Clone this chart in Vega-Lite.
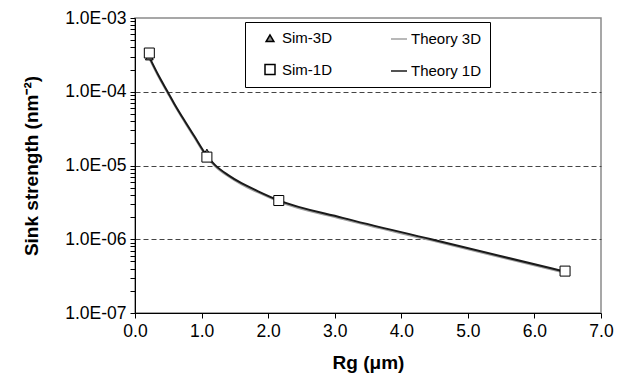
{
  "$schema": "https://vega.github.io/schema/vega-lite/v6.json",
  "width": 466,
  "height": 295,
  "autosize": {"type": "none"},
  "padding": {"left": 135, "top": 18, "right": 27, "bottom": 67},
  "background": "white",
  "config": {
    "font": "Liberation Sans",
    "view": {"stroke": "#8a8a8a", "strokeWidth": 1.5},
    "axis": {"domainColor": "black", "tickColor": "black", "labelColor": "black", "titleColor": "black", "labelFont": "Liberation Sans", "titleFont": "Liberation Sans", "labelFontSize": 17.5, "titleFontSize": 19, "titleFontWeight": "bold", "labelFlush": false, "labelOverlap": false}
  },
  "data": {
    "values": [
      {"series": "Theory 3D", "Rg": 0.215, "S": 2.85e-4},
      {"series": "Theory 3D", "Rg": 0.36, "S": 1.56e-4},
      {"series": "Theory 3D", "Rg": 0.49, "S": 9.65e-5},
      {"series": "Theory 3D", "Rg": 0.59, "S": 6.66e-5},
      {"series": "Theory 3D", "Rg": 0.75, "S": 3.84e-5},
      {"series": "Theory 3D", "Rg": 0.89, "S": 2.42e-5},
      {"series": "Theory 3D", "Rg": 1.08, "S": 1.30e-5},
      {"series": "Theory 3D", "Rg": 1.2, "S": 9.85e-6},
      {"series": "Theory 3D", "Rg": 1.4, "S": 7.14e-6},
      {"series": "Theory 3D", "Rg": 1.6, "S": 5.55e-6},
      {"series": "Theory 3D", "Rg": 1.85, "S": 4.31e-6},
      {"series": "Theory 3D", "Rg": 2.15, "S": 3.27e-6},
      {"series": "Theory 3D", "Rg": 3.12, "S": 1.88e-6},
      {"series": "Theory 3D", "Rg": 4.45, "S": 9.65e-7},
      {"series": "Theory 3D", "Rg": 6.46, "S": 3.5e-7},
      {"series": "Theory 1D", "Rg": 0.215, "S": 2.95e-4},
      {"series": "Theory 1D", "Rg": 0.36, "S": 1.62e-4},
      {"series": "Theory 1D", "Rg": 0.49, "S": 1.0e-4},
      {"series": "Theory 1D", "Rg": 0.59, "S": 6.9e-5},
      {"series": "Theory 1D", "Rg": 0.75, "S": 3.98e-5},
      {"series": "Theory 1D", "Rg": 0.89, "S": 2.51e-5},
      {"series": "Theory 1D", "Rg": 1.08, "S": 1.35e-5},
      {"series": "Theory 1D", "Rg": 1.2, "S": 1.02e-5},
      {"series": "Theory 1D", "Rg": 1.4, "S": 7.4e-6},
      {"series": "Theory 1D", "Rg": 1.6, "S": 5.75e-6},
      {"series": "Theory 1D", "Rg": 1.85, "S": 4.47e-6},
      {"series": "Theory 1D", "Rg": 2.15, "S": 3.39e-6},
      {"series": "Theory 1D", "Rg": 3.12, "S": 1.95e-6},
      {"series": "Theory 1D", "Rg": 4.45, "S": 1.0e-6},
      {"series": "Theory 1D", "Rg": 6.46, "S": 3.63e-7},
      {"series": "Sim-3D", "Rg": 0.215, "S": 3.0e-4},
      {"series": "Sim-3D", "Rg": 1.08, "S": 1.5e-5},
      {"series": "Sim-3D", "Rg": 2.15, "S": 3.3e-6},
      {"series": "Sim-3D", "Rg": 6.46, "S": 3.7e-7},
      {"series": "Sim-1D", "Rg": 0.215, "S": 3.35e-4},
      {"series": "Sim-1D", "Rg": 1.08, "S": 1.3e-5},
      {"series": "Sim-1D", "Rg": 2.16, "S": 3.35e-6},
      {"series": "Sim-1D", "Rg": 6.46, "S": 3.7e-7}
    ]
  },
  "encoding": {
    "x": {
      "field": "Rg", "type": "quantitative",
      "scale": {"domain": [0, 7], "nice": false, "zero": false},
      "axis": {"title": "Rg (μm)", "values": [0, 1, 2, 3, 4, 5, 6, 7], "format": ".1f", "grid": false, "tickSize": 5, "labelPadding": 4, "titleY": 55, "titleBaseline": "alphabetic"}
    },
    "y": {
      "field": "S", "type": "quantitative",
      "scale": {"type": "log", "domain": [1e-7, 1e-3], "nice": false},
      "axis": {
        "title": "Sink strength (nm⁻²)",
        "values": [1e-7, 2e-7, 3e-7, 4e-7, 5e-7, 6e-7, 7e-7, 8e-7, 9e-7, 1e-6, 2e-6, 3e-6, 4e-6, 5e-6, 6e-6, 7e-6, 8e-6, 9e-6, 1e-5, 2e-5, 3e-5, 4e-5, 5e-5, 6e-5, 7e-5, 8e-5, 9e-5, 1e-4, 2e-4, 3e-4, 4e-4, 5e-4, 6e-4, 7e-4, 8e-4, 9e-4, 1e-3],
        "labelExpr": "abs(log(datum.value)/LN10 - round(log(datum.value)/LN10)) < 0.01 ? '1.0E-0' + (-round(log(datum.value)/LN10)) : ''",
        "tickSize": 5,
        "grid": true,
        "gridDash": [5, 3],
        "gridColor": "#444",
        "gridWidth": 1,
        "gridOpacity": {"condition": {"test": "abs(log(datum.value)/LN10 - round(log(datum.value)/LN10)) < 0.01 && datum.value > 2e-7 && datum.value < 5e-4", "value": 1}, "value": 0},
        "labelPadding": 4,
        "titleX": -94,
        "titleBaseline": "bottom"
      }
    }
  },
  "layer": [
    {
      "transform": [{"filter": "indexof(datum.series, 'Theory') >= 0"}],
      "mark": {"type": "line", "interpolate": "monotone", "strokeWidth": 2},
      "encoding": {
        "stroke": {
          "field": "series", "type": "nominal",
          "scale": {"domain": ["Sim-3D", "Theory 3D", "Sim-1D", "Theory 1D"], "range": ["#000000", "#a0a0a0", "#000000", "#1a1a1a"]}
        }
      }
    },
    {
      "transform": [{"filter": "indexof(datum.series, 'Sim') >= 0"}],
      "mark": {"type": "point", "filled": true, "strokeWidth": 1, "opacity": 1},
      "encoding": {
        "stroke": {"field": "series", "type": "nominal"},
        "fill": {
          "field": "series", "type": "nominal",
          "scale": {"domain": ["Sim-3D", "Theory 3D", "Sim-1D", "Theory 1D"], "range": ["#8c8c8c", "#ffffff", "#ffffff", "#ffffff"]}
        },
        "size": {
          "field": "series", "type": "nominal",
          "scale": {"type": "ordinal", "domain": ["Sim-3D", "Theory 3D", "Sim-1D", "Theory 1D"], "range": [60, 256, 100, 256]}
        },
        "shape": {
          "field": "series", "type": "nominal",
          "scale": {"domain": ["Sim-3D", "Theory 3D", "Sim-1D", "Theory 1D"], "range": ["triangle-up", "stroke", "square", "stroke"]},
          "legend": {
            "orient": "none", "legendX": 110, "legendY": 4,
            "title": null, "columns": 2, "direction": "horizontal",
            "strokeColor": "black", "fillColor": "white", "padding": 8,
            "labelFontSize": 15, "labelFont": "Liberation Sans", "labelColor": "black", "labelOffset": 3,
            "symbolOffset": 8, "columnPadding": 49, "rowPadding": 14, "symbolStrokeWidth": 1.5,
            "labelExpr": "indexof(datum.label, 'Theory') >= 0 ? datum.label + '    ' : datum.label"
          }
        }
      }
    }
  ]
}
